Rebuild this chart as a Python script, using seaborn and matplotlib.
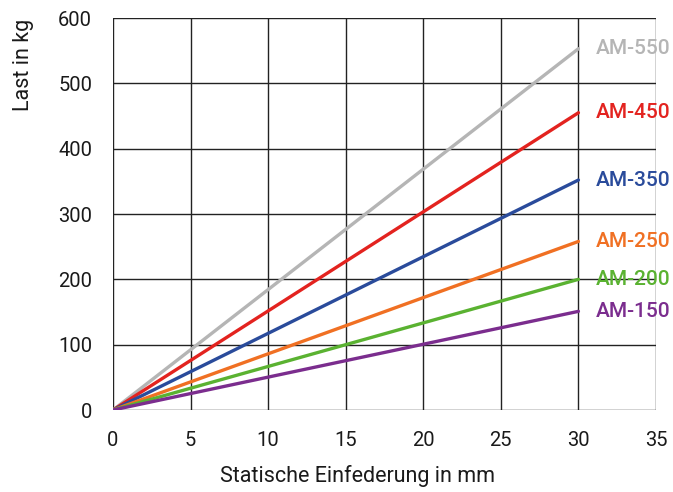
import matplotlib
matplotlib.use("Agg")
import matplotlib.pyplot as plt
import seaborn as sns
import pandas as pd

models = ["AM-550", "AM-450", "AM-350", "AM-250", "AM-200", "AM-150"]
load_at_30 = [553, 455, 352, 258, 200, 151]
deflection = [0, 30]
colors = ["#b5b5b5", "#e3231f", "#2a4b9b", "#f07023", "#5ab231", "#7b2d8e"]
x_ticks = [0, 5, 10, 15, 20, 25, 30, 35]
y_ticks = [0, 100, 200, 300, 400, 500, 600]

rows = []
for m, v in zip(models, load_at_30):
    for d in deflection:
        rows.append({"model": m, "x": d, "y": v * d / deflection[-1]})
df = pd.DataFrame(rows)

sns.set_style("white")
plt.rcParams["font.family"] = ["Roboto", "DejaVu Sans"]

fig = plt.figure(figsize=(6.73, 4.92), dpi=100)
ax = fig.add_axes([113/673, 1 - 410/492, (656-113)/673, (410-18)/492])

sns.lineplot(data=df, x="x", y="y", hue="model", hue_order=models,
             palette=colors, linewidth=2.4, legend=False, ax=ax)

ax.set_xlim(0, 35)
ax.set_ylim(0, 600)
ax.set_xticks(x_ticks)
ax.set_yticks(y_ticks)
ax.grid(True, color="#222222", linewidth=1.0)
ax.set_axisbelow(True)
for s in ax.spines.values():
    s.set_visible(False)
ax.tick_params(axis="both", direction="out", length=8, width=1, color="#333333",
               labelsize=14.5, pad=7, labelcolor="#1a1a1a")
ax.set_xlabel("Statische Einfederung in mm", fontsize=15.5, color="#1a1a1a")
ax.xaxis.set_label_coords((358 - 113) / (656 - 113), -(465 - 410) / (410 - 18))
ax.set_ylabel("Last in kg", fontsize=15.5, color="#1a1a1a")
ax.yaxis.set_label_coords(-(113 - 34) / (656 - 113), (410 - 65) / (410 - 18))

for m, v, c in zip(models, load_at_30, colors):
    ax.text(31.1, v, m, color=c, fontsize=15, fontweight="medium",
            va="center", ha="left", clip_on=False)

fig.savefig("out.png", dpi=100, facecolor="white")
